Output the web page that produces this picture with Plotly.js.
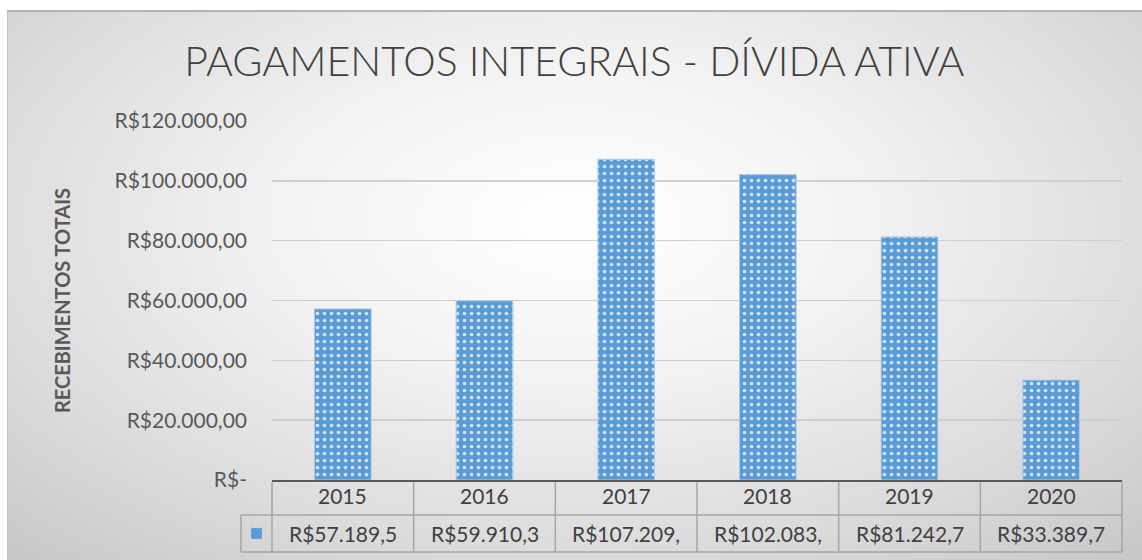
<!DOCTYPE html>
<html>
<head>
<meta charset="utf-8">
<script src="https://cdn.plot.ly/plotly-3.0.1.min.js"></script>
<style>
html,body{margin:0;padding:0;background:#ffffff;width:1142px;height:560px;overflow:hidden;}
#bg{position:absolute;left:7px;top:10px;width:1135px;height:550px;
 background:radial-gradient(ellipse 75% 85% at 50% 38%, #ffffff 0%, #f2f2f2 35%, #dcdcdc 70%, #c6c6c6 100%);
 border-top:2px solid #b4b4b4;border-left:1px solid #c0c0c0;box-sizing:border-box;}
#chart{position:absolute;left:0;top:0;width:1142px;height:560px;}
</style>
</head>
<body>
<div id="bg"></div>
<div id="chart"></div>
<script>
// ---- data ----
var years = ['2015', '2016', '2017', '2018', '2019', '2020'];
var values = [57189.5, 59910.3, 107209.4, 102083.6, 81242.7, 33389.7];
var tickValues = [0, 20000, 40000, 60000, 80000, 100000, 120000];
var chartTitle = 'PAGAMENTOS INTEGRAIS - DÍVIDA ATIVA';
var yTitle = 'RECEBIMENTOS TOTAIS';

function brl(v) {
  if (v === 0) return 'R$-';
  var s = v.toFixed(2);
  var parts = s.split('.');
  var intPart = parts[0].replace(/\B(?=(\d{3})+(?!\d))/g, '.');
  return 'R$' + intPart + ',' + parts[1];
}
var tickText = tickValues.map(brl);
var tableText = values.map(function (v) { return brl(v).slice(0, 10); });

var FONT = 'Lato, "Open Sans", sans-serif';
var trace = {
  type: 'bar',
  x: years,
  y: values,
  width: 0.4,
  marker: {
    color: '#5b9bd5',
    line: {color: '#a9cbe9', width: 1},
    pattern: {shape: '.', fgcolor: '#ffffff', fgopacity: 0.7, size: 7, solidity: 0.22, fillmode: 'overlay'}
  },
  hoverinfo: 'x+y'
};

// table geometry in paper coordinates
var plotH = 359, plotW = 850;
var r1 = -35 / plotH, r2 = -72 / plotH, legL = -31 / plotW;
var gc = '#a6a6a6';
var n = years.length;
var shapes = [];
shapes.push({type: 'line', xref: 'paper', yref: 'paper', x0: 0, x1: 1, y0: r1, y1: r1, line: {color: gc, width: 1.5}});
shapes.push({type: 'line', xref: 'paper', yref: 'paper', x0: legL, x1: 1, y0: r2, y1: r2, line: {color: gc, width: 1.5}});
shapes.push({type: 'line', xref: 'paper', yref: 'paper', x0: legL, x1: 0, y0: r1, y1: r1, line: {color: gc, width: 1.5}});
shapes.push({type: 'line', xref: 'paper', yref: 'paper', x0: legL, x1: legL, y0: r1, y1: r2, line: {color: gc, width: 1.5}});
for (var k = 0; k <= n; k++) {
  shapes.push({type: 'line', xref: 'paper', yref: 'paper', x0: k / n, x1: k / n, y0: -0.006, y1: r2, line: {color: gc, width: 1.5}});
}
// legend key
shapes.push({type: 'rect', xref: 'paper', yref: 'paper', x0: legL + 10 / plotW, x1: legL + 21 / plotW, y0: (r1 + r2) / 2 - 5.5 / plotH, y1: (r1 + r2) / 2 + 5.5 / plotH,
  fillcolor: '#5b9bd5', line: {color: '#9dc3e6', width: 1, dash: 'dot'}});

var annotations = [];
years.forEach(function (yr, i) {
  var xc = (i + 0.5) / n;
  annotations.push({xref: 'paper', yref: 'paper', x: xc, y: r1 / 2 + 2 / plotH, text: yr, showarrow: false,
    font: {family: FONT, size: 21, color: '#404040'}, xanchor: 'center', yanchor: 'middle'});
  annotations.push({xref: 'paper', yref: 'paper', x: xc, y: (r1 + r2) / 2, text: tableText[i], showarrow: false,
    font: {family: FONT, size: 21, color: '#404040'}, xanchor: 'center', yanchor: 'middle'});
});

var layout = {
  width: 1142, height: 560,
  paper_bgcolor: 'rgba(0,0,0,0)', plot_bgcolor: 'rgba(0,0,0,0)',
  margin: {l: 272, r: 20, t: 121, b: 80},
  title: {text: chartTitle, x: 0.503, xref: 'container', xanchor: 'center', y: 0.89, yanchor: 'middle',
    font: {family: FONT, size: 41, color: '#404040', weight: 300}},
  showlegend: false,
  bargap: 0.6,
  xaxis: {type: 'category', showticklabels: false, ticks: '', showgrid: false, zeroline: false,
    showline: true, linecolor: '#595959', linewidth: 2, range: [-0.5, 5.5], fixedrange: true},
  yaxis: {range: [0, 120000], tickvals: tickValues, ticktext: tickText, showgrid: true, gridcolor: '#cfcfcf', gridwidth: 1.5,
    zeroline: false, showline: false, ticks: '', ticklabelstandoff: 24,
    tickfont: {family: FONT, size: 21, color: '#595959'},
    title: {text: yTitle, standoff: 38, font: {family: FONT, size: 20, color: '#595959', weight: 'bold'}},
    automargin: false, fixedrange: true},
  shapes: shapes,
  annotations: annotations
};
Plotly.newPlot('chart', [trace], layout, {displayModeBar: false, staticPlot: true});
</script>
</body>
</html>
